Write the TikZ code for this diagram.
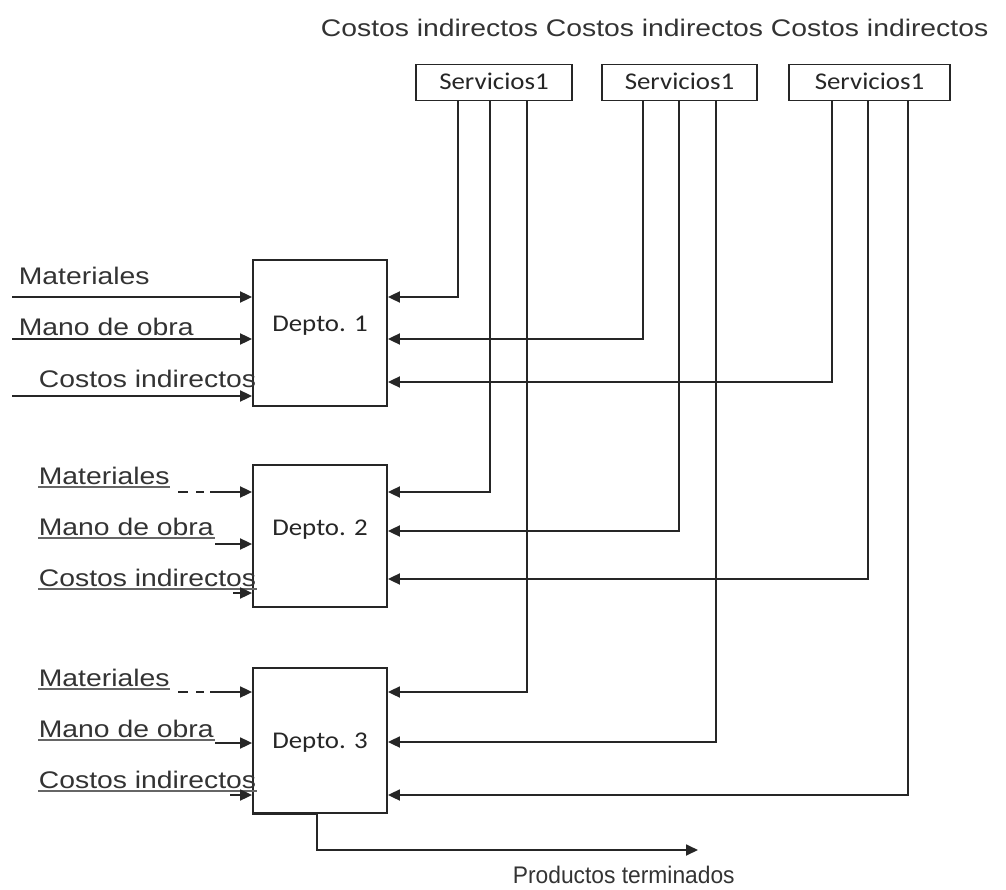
\documentclass[tikz,border=0pt]{standalone}
\usepackage{fontspec}
\usepackage{graphicx}
\setmainfont{Liberation Sans}
\newfontfamily\carlfont{Carlito}
\usetikzlibrary{arrows.meta}
\newcommand{\lbltxt}[1]{{\fontsize{24}{28}\selectfont\scalebox{1.18}[1]{#1}}}
\newcommand{\boxtxt}[1]{{\carlfont\fontsize{24}{28}\selectfont\scalebox{1.12}[1]{#1}}}
\begin{document}
\begin{tikzpicture}[x=1pt,y=-1pt,
  line width=1.8pt,
  arr/.style={-{Triangle[length=12pt,width=11pt]}, draw=black!85},
  svc/.style={draw=black!85, minimum width=156pt, minimum height=36pt, inner sep=0pt},
  dep/.style={draw=black!85, minimum width=134pt, inner sep=0pt},
  lbl/.style={inner sep=0pt, anchor=base west, text=black!80},
  btxt/.style={inner sep=0pt, anchor=base, text=black!85},
  ul/.style={append after command={
      ([yshift=-3pt]\tikzlastnode.base west) edge[draw=black!60, line width=1.2pt, -] ([yshift=-3pt]\tikzlastnode.base east)}}
]
\useasboundingbox (0,0) rectangle (1006,890);

% top heading
\node[lbl] (top) at (320,37) {\lbltxt{Costos indirectos Costos indirectos Costos indirectos}};

% service boxes
\node[svc] (s1) at (494,82.5) {};
\node[svc, minimum width=155pt] (s2) at (679.5,82.5) {};
\node[svc, minimum width=161pt] (s3) at (869.5,82.5) {};
\node[btxt] (s1t) at (494,90) {\boxtxt{Servicios1}};
\node[btxt] (s2t) at (679.5,90) {\boxtxt{Servicios1}};
\node[btxt] (s3t) at (869.5,90) {\boxtxt{Servicios1}};

% department boxes
\node[dep, minimum height=146pt] (d1) at (320,333) {};
\node[dep, minimum height=142pt] (d2) at (320,536) {};
\node[dep, minimum height=145pt] (d3) at (320,740.5) {};
\node[btxt] (d1t) at (320,331) {\boxtxt{Depto. 1}};
\node[btxt] (d2t) at (320,535) {\boxtxt{Depto. 2}};
\node[btxt] (d3t) at (320,748) {\boxtxt{Depto. 3}};

% service connectors
\draw[arr] (458,0 |- s1.south) |- (d1.east |- 0,297);
\draw[arr] (490,0 |- s1.south) |- (d2.east |- 0,492);
\draw[arr] (527,0 |- s1.south) |- (d3.east |- 0,692);
\draw[arr] (643,0 |- s2.south) |- (d1.east |- 0,339);
\draw[arr] (679,0 |- s2.south) |- (d2.east |- 0,531);
\draw[arr] (716,0 |- s2.south) |- (d3.east |- 0,742);
\draw[arr] (832,0 |- s3.south) |- (d1.east |- 0,382);
\draw[arr] (868,0 |- s3.south) |- (d2.east |- 0,579);
\draw[arr] (908,0 |- s3.south) |- (d3.east |- 0,795);

% left labels and inputs, Depto 1
\node[lbl] (m1) at (18,285) {\lbltxt{Materiales}};
\node[lbl] (o1) at (18,335) {\lbltxt{Mano de obra}};
\node[lbl] (c1) at (38,387) {\lbltxt{Costos indirectos}};
\coordinate (m1s) at (12,297);
\coordinate (o1s) at (12,339);
\coordinate (c1s) at (12,396);
\draw[arr] (m1s) -- (d1.west |- m1s);
\draw[arr] (o1s) -- (d1.west |- o1s);
\draw[arr] (c1s) -- (d1.west |- c1s);

% Depto 2
\node[lbl, ul] (m2) at (38,484) {\lbltxt{Materiales}};
\node[lbl, ul] (o2) at (38,535) {\lbltxt{Mano de obra}};
\node[lbl, ul] (c2) at (38,586) {\lbltxt{Costos indirectos}};
\coordinate (m2s) at (178,492);
\coordinate (o2s) at (215,544);
\coordinate (c2s) at (233,593);
\draw[arr, dash pattern=on 10pt off 8pt on 8pt off 6pt on 60pt] (m2s) -- (d2.west |- m2s);
\draw[arr] (o2s) -- (d2.west |- o2s);
\draw[arr] (c2s) -- (d2.west |- c2s);

% Depto 3
\node[lbl, ul] (m3) at (38,686) {\lbltxt{Materiales}};
\node[lbl, ul] (o3) at (38,737) {\lbltxt{Mano de obra}};
\node[lbl, ul] (c3) at (38,788) {\lbltxt{Costos indirectos}};
\coordinate (m3s) at (178,692);
\coordinate (o3s) at (215,743);
\coordinate (c3s) at (230,795);
\draw[arr, dash pattern=on 10pt off 8pt on 8pt off 6pt on 60pt] (m3s) -- (d3.west |- m3s);
\draw[arr] (o3s) -- (d3.west |- o3s);
\draw[arr] (c3s) -- (d3.west |- c3s);

% output
\draw[line width=3pt, black!85] (d3.south west) -- (317,0 |- d3.south);
\coordinate (pend) at (698,850);
\draw[arr] (317,0 |- d3.south) |- (pend);
\node[lbl] (pt) at (512,883) {{\fontsize{24}{28}\selectfont\scalebox{0.95}[1]{Productos terminados}}};
\end{tikzpicture}
\end{document}
